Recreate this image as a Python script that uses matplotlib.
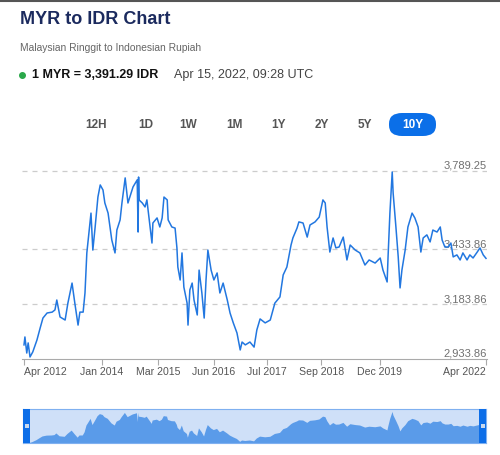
import matplotlib
matplotlib.use("Agg")
import matplotlib.pyplot as plt
from matplotlib.patches import FancyBboxPatch, Rectangle
from matplotlib.lines import Line2D
import matplotlib.transforms as mtransforms

plt.rcParams['font.family'] = ['Liberation Sans', 'DejaVu Sans']

# decimal years and MYR->IDR rate
years = [2012.29, 2012.31, 2012.35, 2012.38, 2012.42, 2012.48, 2012.57, 2012.64, 2012.70, 2012.79,
         2012.90, 2012.96, 2013.00, 2013.07, 2013.18, 2013.24, 2013.33, 2013.39, 2013.46, 2013.50,
         2013.57, 2013.61, 2013.65, 2013.68, 2013.74, 2013.78, 2013.83, 2013.89, 2013.94, 2014.00,
         2014.04, 2014.11, 2014.19, 2014.26, 2014.30, 2014.37, 2014.41, 2014.48, 2014.54, 2014.65,
         2014.74, 2014.76, 2014.77, 2014.78, 2014.85, 2014.91, 2014.95, 2015.02, 2015.06, 2015.08,
         2015.17, 2015.23, 2015.28, 2015.32, 2015.39, 2015.41, 2015.49, 2015.56, 2015.60, 2015.62,
         2015.67, 2015.71, 2015.75, 2015.82, 2015.84, 2015.88, 2015.93, 2015.97, 2016.04, 2016.08,
         2016.14, 2016.19, 2016.23, 2016.27, 2016.34, 2016.40, 2016.47, 2016.53, 2016.60, 2016.69,
         2016.75, 2016.82, 2016.90, 2016.97, 2017.01, 2017.08, 2017.18, 2017.27, 2017.33, 2017.40,
         2017.51, 2017.62, 2017.72, 2017.83, 2017.90, 2017.98, 2018.07, 2018.11, 2018.20, 2018.24,
         2018.33, 2018.42, 2018.48, 2018.59, 2018.68, 2018.76, 2018.81, 2018.85, 2018.91, 2018.98,
         2019.04, 2019.11, 2019.20, 2019.28, 2019.35, 2019.46, 2019.56, 2019.67, 2019.76, 2019.89,
         2020.00, 2020.06, 2020.15, 2020.17, 2020.21, 2020.26, 2020.28, 2020.34, 2020.39, 2020.43,
         2020.47, 2020.54, 2020.60, 2020.69, 2020.75, 2020.82, 2020.88, 2020.93, 2021.01, 2021.08,
         2021.14, 2021.23, 2021.30, 2021.34, 2021.40, 2021.47, 2021.53, 2021.58, 2021.66, 2021.73,
         2021.79, 2021.88, 2021.94, 2022.01, 2022.10, 2022.16, 2022.23, 2022.29]
rates = [2998, 3034, 2961, 3007, 2943, 2966, 3020, 3075, 3120, 3143,
         3147, 3157, 3202, 3125, 3111, 3188, 3279, 3188, 3088, 3147,
         3147, 3234, 3416, 3475, 3597, 3429, 3534, 3670, 3725, 3702,
         3643, 3597, 3475, 3416, 3520, 3566, 3643, 3757, 3643, 3716,
         3748, 3511, 3761, 3657, 3643, 3625, 3657, 3534, 3461, 3552,
         3575, 3534, 3575, 3670, 3657, 3566, 3534, 3529, 3439, 3352,
         3293, 3416, 3261, 3188, 3088, 3248, 3279, 3202, 3134, 3338,
         3234, 3120, 3293, 3429, 3338, 3293, 3325, 3234, 3279, 3202,
         3143, 3098, 3052, 2975, 3011, 2998, 3011, 2988, 3066, 3116,
         3098, 3111, 3188, 3216, 3316, 3352, 3452, 3484, 3529, 3557,
         3552, 3488, 3543, 3557, 3579, 3657, 3643, 3534, 3420, 3484,
         3439, 3443, 3488, 3384, 3452, 3429, 3416, 3361, 3384, 3370,
         3393, 3338, 3284, 3398, 3597, 3784, 3688, 3534, 3398, 3257,
         3338, 3429, 3534, 3597, 3575, 3534, 3420, 3484, 3498, 3466,
         3520, 3511, 3534, 3475, 3443, 3443, 3461, 3398, 3407, 3384,
         3416, 3384, 3407, 3393, 3420, 3439, 3407, 3391.29]

y_ticks = [2933.86, 3183.86, 3433.86, 3789.25]
x_tick_pos = [2012.29, 2013.98, 2015.19, 2016.40, 2017.54, 2018.72, 2019.99, 2022.29]
x_tick_labels = ['Apr 2012', 'Jan 2014', 'Mar 2015', 'Jun 2016', 'Jul 2017', 'Sep 2018', 'Dec 2019', 'Apr 2022']
ranges = ['12H', '1D', '1W', '1M', '1Y', '2Y', '5Y', '10Y']

W, H = 500, 455
LINE = '#2277e0'

fig = plt.figure(figsize=(W / 100, H / 100), dpi=100)

def fx(px):
    return px / W

def fy(py):
    return 1 - py / H

# top border
fig.add_artist(Line2D([0, 1], [fy(0.5), fy(0.5)], color='#555555', lw=1.5))

# header
fig.text(fx(20), fy(20), 'MYR to IDR Chart', fontsize=13, weight='bold', color='#1b2a5e', va='center')
fig.text(fx(20), fy(48), 'Malaysian Ringgit to Indonesian Rupiah', fontsize=7.4, color='#666666', va='center')
fig.add_artist(Line2D([fx(22)], [fy(75)], marker='o', ms=4, color='#2aa84a', lw=0))
fig.text(fx(32), fy(75), '1 MYR = 3,391.29 IDR', fontsize=9, weight='bold', color='#111111', va='center')
fig.text(fx(174), fy(75), 'Apr 15, 2022, 09:28 UTC', fontsize=9, color='#444444', va='center')

# range buttons
btn_x = [96, 146, 188, 234, 278, 322, 365, 413]
pill = FancyBboxPatch((fx(389), fy(136)), fx(47), fy(113) - fy(136),
                      boxstyle='round,pad=0,rounding_size=0.026', transform=fig.transFigure,
                      facecolor='#0b6fe8', edgecolor='none', mutation_aspect=H / W)
fig.add_artist(pill)
for lab, bx in zip(ranges, btn_x):
    fig.text(fx(bx), fy(125), lab, fontsize=8.5, weight='bold', ha='center', va='center',
             color='white' if lab == '10Y' else '#555555')

# main chart
ax = fig.add_axes([fx(22), fy(359), fx(487) - fx(22), fy(160) - fy(359)])
ax.plot(years, rates, color=LINE, lw=1.1, zorder=3)
ax.set_xlim(2012.29 - 2 / 46.2, 2022.29 + 1 / 46.2)
ax.set_ylim(2933.86, 2933.86 + 199 / 0.22)
for v in y_ticks[1:]:
    ax.axhline(v, color='#cccccc', lw=0.9, ls=(0, (4, 4)), zorder=1)
trans = mtransforms.blended_transform_factory(ax.transAxes, ax.transData)
for v in y_ticks:
    ax.text(1.0, v, f'{v:,.2f}', transform=trans, ha='right', va='bottom', fontsize=8,
            color='#707070', zorder=2)
ax.set_yticks([])
for s in ['top', 'right', 'left']:
    ax.spines[s].set_visible(False)
ax.spines['bottom'].set_color('#aaaaaa')
ax.set_xticks(x_tick_pos)
ax.set_xticklabels(x_tick_labels)
ax.tick_params(axis='x', length=4, color='#aaaaaa', labelsize=7.6, labelcolor='#555555', pad=2)
xlabels = ax.get_xticklabels()
xlabels[0].set_ha('left')
xlabels[-1].set_ha('right')
ax.patch.set_alpha(0)

# navigator
nav = fig.add_axes([fx(23), fy(443), fx(486) - fx(23), fy(409) - fy(443)])
nav.set_facecolor('#cfe0f8')
nav.fill_between(years, rates, 2900, color='#5a9be9', lw=0)
nav.set_xlim(2012.29, 2022.29)
nav.set_ylim(2930, 3850)
nav.set_xticks([])
nav.set_yticks([])
for s in nav.spines.values():
    s.set_color('#7fb0f0')
for hx in (0.0, 1.0 - 7 / 463):
    nav.add_patch(Rectangle((hx, 0), 7 / 463, 1, transform=nav.transAxes, facecolor='#0d6ee8',
                            edgecolor='none', zorder=5))
    nav.add_patch(Rectangle((hx + 1.5 / 463, 0.45), 4 / 463, 0.1, transform=nav.transAxes,
                            facecolor='#c9d9ee', edgecolor='none', zorder=6))

fig.savefig('out.png', dpi=100)
